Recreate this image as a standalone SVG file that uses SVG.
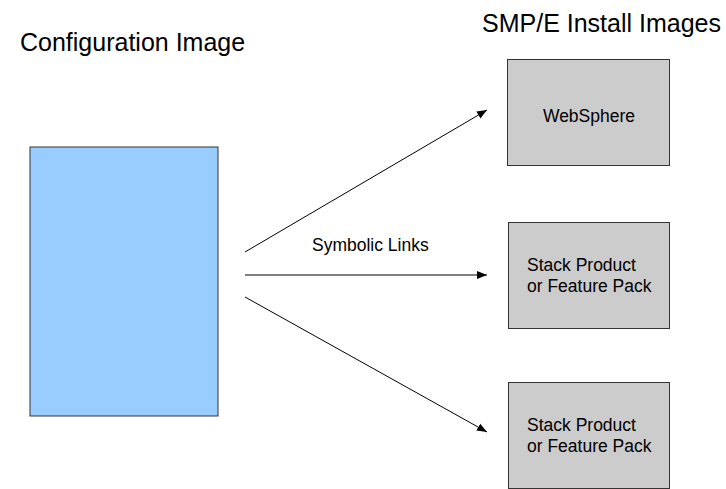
<svg xmlns="http://www.w3.org/2000/svg" width="726" height="489" viewBox="0 0 726 489">
<style>
text{font-family:"Liberation Sans",Arial,sans-serif;fill:#000}
.title{font-size:25px}
.lbl{font-size:17.5px}
.box{fill:#cccccc;stroke:#333;stroke-width:1}
.cfg{fill:#99ccff;stroke:#333;stroke-width:1}
.conn{stroke:#000;stroke-width:1;fill:none;marker-end:url(#ah)}
</style>
<defs>
<marker id="ah" viewBox="0 0 10 10" refX="10" refY="5" markerWidth="10" markerHeight="10" markerUnits="userSpaceOnUse" orient="auto">
<path d="M0,1 L10,5 L0,9 z" fill="#000"/>
</marker>
</defs>
<text class="title" x="20" y="51">Configuration Image</text>
<text class="title" x="721" y="32" text-anchor="end">SMP/E Install Images</text>
<g id="config">
<rect class="cfg" x="30" y="147" width="188" height="269"/>
</g>
<g id="websphere">
<rect class="box" x="507.500" y="59.500" width="162" height="106"/>
<text class="lbl" x="589" y="122" text-anchor="middle">WebSphere</text>
</g>
<g id="stack1">
<rect class="box" x="508.500" y="222.500" width="161" height="106"/>
<text class="lbl" x="527" y="271">Stack Product</text>
<text class="lbl" x="527" y="292">or Feature Pack</text>
</g>
<g id="stack2">
<rect class="box" x="508.500" y="382.500" width="161" height="106"/>
<text class="lbl" x="527" y="431">Stack Product</text>
<text class="lbl" x="527" y="452">or Feature Pack</text>
</g>
<g id="connectors">
<line class="conn" x1="245" y1="252" x2="487" y2="110"/>
<line class="conn" x1="245" y1="275" x2="487" y2="275"/>
<line class="conn" x1="245" y1="297" x2="487" y2="432"/>
<text class="lbl" x="312" y="251">Symbolic Links</text>
</g>
</svg>
